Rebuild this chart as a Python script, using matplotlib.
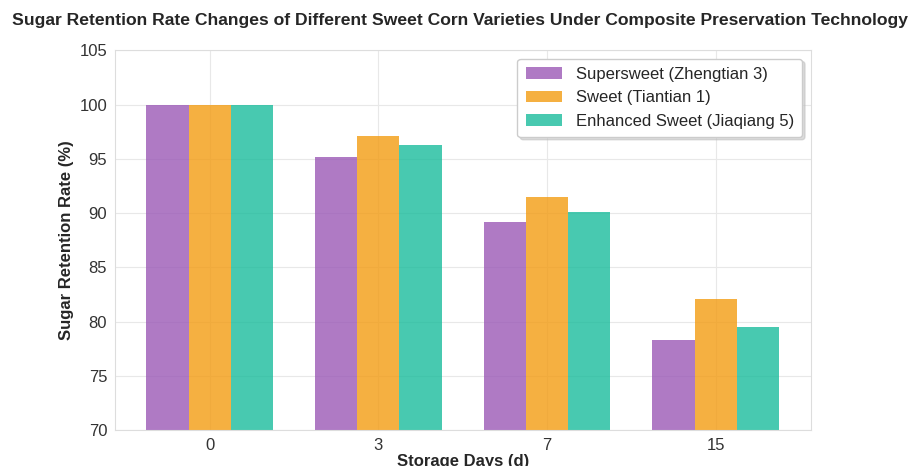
import matplotlib

matplotlib.use("Agg")

import matplotlib.pyplot as plt  # noqa: E402
import numpy as np  # noqa: E402
import seaborn as sns  # noqa: E402

days = ["0", "3", "7", "15"]
varieties = ["Supersweet (Zhengtian 3)", "Sweet (Tiantian 1)", "Enhanced Sweet (Jiaqiang 5)"]
supersweet = [100.0, 95.2, 89.2, 78.3]
sweet = [100.0, 97.1, 91.5, 82.1]
enhanced = [100.0, 96.3, 90.1, 79.5]
colors = ["#9b59b6", "#f39c12", "#1abc9c"]

sns.set_style("whitegrid")
plt.rcParams["font.family"] = ["Liberation Sans", "DejaVu Sans"]

fig = plt.figure(figsize=(9.19, 4.66), dpi=100)
ax = fig.add_axes((0.125, 0.077, 0.757, 0.815))

x = np.arange(len(days))
w = 0.25
for i, (vals, name) in enumerate(zip([supersweet, sweet, enhanced], varieties)):
    ax.bar(x + (i - 1) * w, vals, w, color=colors[i], alpha=0.8, linewidth=0, label=name)

ax.set_ylim(70, 105)
ax.set_xticks(x)
ax.set_xticklabels(days)
ax.tick_params(labelsize=12, colors="#333333", pad=2)
ax.set_xlabel("Storage Days (d)", fontsize=12, fontweight="bold", labelpad=1)
ax.set_ylabel("Sugar Retention Rate (%)", fontsize=12, fontweight="bold")
for s in ax.spines.values():
    s.set_color("#dddddd")
ax.grid(True, color="#e8e8e8", lw=0.8)

leg = ax.legend(loc="upper right", fontsize=12, frameon=True, fancybox=True,
                shadow={"color": "#bbbbbb", "alpha": 0.5}, framealpha=1.0,
                borderpad=0.5, handlelength=2.2)
leg.get_frame().set_edgecolor("#cccccc")

fig.suptitle("Sugar Retention Rate Changes of Different Sweet Corn Varieties Under Composite Preservation Technology",
             fontsize=12.6, fontweight="bold", x=0.5, y=0.972)

fig.savefig("out.png", dpi=100)
